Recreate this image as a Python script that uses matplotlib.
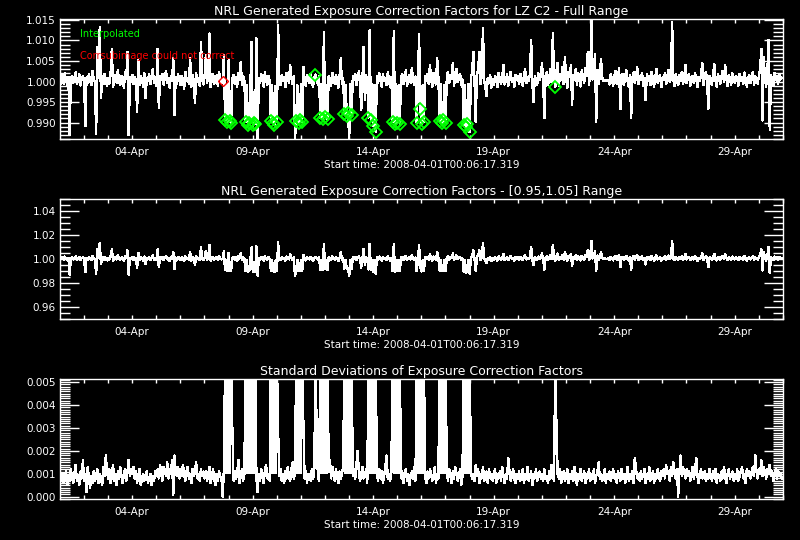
import numpy as np
import matplotlib
matplotlib.use("Agg")
import matplotlib.pyplot as plt
import matplotlib.dates as mdates
from matplotlib.ticker import MultipleLocator, FormatStrFormatter
from datetime import datetime, timedelta

# ---------------- data ----------------
start_time = datetime(2008, 4, 1, 0, 6, 17, 319000)
step_days = 0.05          # sampling of the series (days)
span_days = 30.0          # plotted time span (days)

# exposure correction factor minus 1, in units of 1e-4 (one row per day)
factor_dev = [
    -12, 8, 15, -5, 20, 3, -8, 11, -130, 6, 14, -3, 9, 22, -6, 4, 17, -10, 7, 12,
    5, -109, 10, -4, 18, 2, -9, 25, 6, -2, -127, 84, 8, 133, -41, 12, -7, 19, 3, -11,
    9, -5, 21, 80, -14, 6, 15, -3, 28, 1, -8, 13, 4, -16, 24, 7, 72, -131, 10, -2,
    16, -6, 11, 3, -74, 52, -9, 14, 5, -12, 20, -40, 8, 2, 17, -7, 10, 30, -4, 6,
    -10, 80, -65, 12, 4, 19, -8, 9, 26, -3, 7, -15, 13, 2, 56, -82, 11, -5, 18, 3,
    -9, 14, 6, -18, 23, 1, 9, -6, 56, -12, 15, 4, -53, 20, -2, 8, -11, 97, 5, -7,
    12, 64, -4, 10, 117, -14, 7, 19, -6, 3, 15, -10, 24, 5, -3, 1, 64, -94, -9, -99,
    52, -96, -101, 8, 16, -5, 11, -13, 21, 4, 48, -8, 13, 2, -98, -8, -105, -101, -10, 97,
    -107, -102, -104, 105, -138, 9, -4, 18, 6, -12, 22, 3, -7, 14, 1, -96, -8, -101, -106, -11,
    -99, 137, 5, -9, 16, 2, 11, -14, 20, 7, -3, 40, 9, -6, 13, -139, -97, -9, -101, -95,
    -7, -99, 36, 4, -11, 15, 8, -4, 19, 2, -13, 10, 17, 6, -7, 12, -88, -6, -92, 121,
    -86, -8, -91, 14, 3, -10, 21, 7, -5, 16, 1, -15, 11, 56, -6, 9, -80, -9, -84, -78,
    -138, -7, -82, 12, 4, 18, -9, 7, 25, -2, -70, 10, 84, -45, 15, 3, -88, 125, -93, -6,
    -108, -9, -124, 13, -4, 20, 6, -12, 17, 2, 9, -8, 22, 5, -14, 11, -99, 123, -104, -7,
    -100, -9, -103, 10, 18, -6, 4, 27, -11, 8, 15, -3, 33, 6, -9, 12, -100, -8, 115, -68,
    -103, -8, -99, 14, 2, 19, -5, 40, 8, -13, 21, 4, -7, 56, 10, -97, -7, -101, -95, -9,
    -100, 11, 24, -4, 16, 6, 45, -10, 13, 30, -2, 9, 19, -8, 5, -106, -8, -112, -104, -6,
    -124, 12, 20, 72, 3, -99, 17, 28, 72, -6, 14, 129, 2, -12, -35, 9, -3, 16, -15, 7,
    -9, 13, 4, -14, 21, 6, -5, 11, 40, -7, 3, 17, -10, 9, 23, -2, 8, -13, 15, 4,
    12, -6, 19, 7, -11, 14, 29, -4, 10, 2, 18, 101, -3, -50, 12, 6, -9, 20, 3, 15,
    45, -6, -89, 14, 22, -8, 9, 31, -2, 117, 11, -13, 26, 45, -10, 18, 4, 35, -7, 60,
    8, -15, 24, 12, 40, -56, 16, 3, 30, -9, 21, 6, -12, 27, 10, -4, 33, 14, 72, -8,
    19, 150, 5, 24, 67, -99, 28, -6, 15, 55, 9, 2, 3, 1, 2, 4, -7, 18, 6, -11,
    14, 25, -5, 10, 33, -68, 7, 19, -9, 12, 27, 3, -13, 16, -89, 8, 22, -4, 11, 35,
    -6, 14, 5, 21, -10, 9, -45, 17, 2, 13, -8, 24, 6, -12, 11, 30, -3, 8, 16, -14,
    10, 3, 20, -7, 13, 28, -2, 9, 145, 5, -11, 18, 4, -9, 15, 1, 23, -6, 7, 40,
    -4, 12, 19, -10, 6, 14, -3, 21, 8, -14, 11, 2, 17, 45, -8, 9, 24, 4, -68, 13,
    6, -9, 15, 42, 3, -12, 19, 7, -5, 14, 26, -2, 40, 8, -11, 16, 4, -7, 20, 9,
    -3, 13, 6, -10, 18, 2, 11, -6, 22, 5, -13, 9, 16, -4, 7, 24, -8, 12, 3, -5,
    14, 28, 80, -95, 60, 6, -12, 19, 101, -119, 15, 8, -10, 21, 3, 12, -6, 17, 5, 9,
]

# standard deviation of the correction factor, in units of 1e-4 (one row per day)
std_e4 = [
    9, 7, 10, 6, 8, 11, 5, 9, 7, 12, 8, 6, 10, 14, 7, 9, 5, 11, 8, 16,
    7, 10, 2, 13, 8, 4, 9, 6, 11, 7, 9, 12, 6, 10, 8, 5, 13, 9, 18, 11,
    8, 12, 6, 9, 14, 7, 10, 5, 11, 8, 13, 9, 6, 10, 12, 7, 11, 16, 9, 12,
    10, 13, 8, 11, 6, 9, 12, 5, 8, 10, 7, 9, 11, 6, 8, 10, 5, 9, 7, 11,
    9, 12, 8, 14, 10, 7, 13, 11, 9, 15, 8, 12, 10, 16, 1, 18, 11, 9, 13, 8,
    12, 9, 14, 10, 7, 11, 13, 8, 10, 6, 12, 9, 11, 15, 8, 10, 7, 12, 9, 11,
    8, 11, 7, 10, 13, 6, 9, 12, 8, 5, 10, 7, 11, 9, 8, 0, 12, 60, 60, 60,
    60, 60, 60, 30, 7, 11, 8, 10, 16, 6, 9, 12, 7, 10, 60, 60, 60, 60, 60, 60,
    60, 60, 60, 8, 2, 10, 7, 12, 9, 6, 11, 14, 8, 10, 7, 60, 60, 60, 60, 60,
    60, 29, 9, 12, 7, 10, 6, 11, 8, 13, 9, 7, 12, 15, 8, 10, 60, 60, 60, 60,
    60, 60, 31, 8, 11, 6, 10, 9, 7, 12, 8, 10, 60, 29, 9, 7, 60, 60, 60, 60,
    60, 60, 60, 11, 16, 8, 13, 10, 7, 12, 9, 6, 11, 8, 10, 13, 60, 60, 60, 60,
    60, 60, 60, 9, 12, 8, 14, 20, 11, 7, 10, 13, 8, 9, 12, 6, 60, 60, 60, 60,
    60, 60, 60, 10, 7, 12, 8, 11, 6, 9, 13, 18, 8, 10, 7, 11, 60, 60, 60, 60,
    60, 60, 60, 8, 11, 6, 9, 12, 7, 10, 5, 9, 11, 8, 13, 7, 60, 60, 60, 60,
    60, 60, 60, 9, 6, 11, 8, 12, 10, 7, 9, 13, 6, 10, 8, 60, 60, 60, 60, 60,
    60, 10, 7, 12, 9, 6, 11, 8, 13, 10, 7, 9, 12, 5, 9, 60, 60, 60, 60, 60,
    60, 11, 8, 10, 7, 14, 9, 12, 6, 10, 8, 13, 7, 9, 11, 6, 12, 8, 10, 7,
    9, 12, 6, 10, 8, 11, 7, 13, 9, 6, 10, 8, 17, 11, 7, 9, 12, 8, 6, 10,
    8, 11, 7, 9, 12, 6, 10, 8, 13, 7, 9, 11, 5, 10, 8, 12, 7, 9, 11, 8,
    10, 7, 12, 8, 9, 6, 11, 8, 14, 9, 7, 60, 30, 10, 8, 12, 6, 9, 11, 7,
    9, 12, 6, 10, 8, 11, 7, 13, 9, 5, 10, 8, 12, 7, 9, 11, 6, 10, 8, 12,
    7, 10, 8, 12, 6, 9, 11, 15, 8, 10, 7, 9, 12, 6, 10, 8, 11, 7, 9, 12,
    8, 10, 6, 11, 9, 7, 12, 8, 10, 6, 9, 13, 7, 10, 8, 11, 6, 17, 12, 8,
    10, 7, 11, 8, 9, 12, 6, 10, 8, 13, 7, 9, 11, 6, 10, 8, 12, 9, 7, 11,
    9, 12, 8, 14, 10, 11, 7, 13, 9, 15, 11, 8, 12, 0, 10, 18, 9, 13, 11, 8,
    12, 9, 11, 7, 10, 13, 8, 11, 17, 9, 6, 10, 12, 8, 9, 11, 7, 10, 8, 12,
    9, 7, 11, 8, 12, 6, 10, 9, 7, 11, 8, 13, 9, 6, 10, 12, 8, 9, 11, 7,
    10, 8, 12, 7, 9, 11, 13, 8, 10, 6, 12, 9, 11, 8, 10, 13, 9, 18, 11, 8,
    12, 10, 16, 9, 13, 11, 8, 12, 10, 14, 9, 11, 7, 10, 12, 8, 11, 9, 10, 8,
]

# samples flagged as interpolated / not correctable
interp_idx = [137, 139, 141, 142,
              154, 156, 157, 160, 161, 162,
              175, 177, 178, 180,
              196, 198, 199, 201,
              212,
              216, 218, 220, 222,
              236, 238, 239, 242,
              256, 258, 260, 262,
              276, 278, 280, 282,
              296, 299, 300, 302,
              315, 317, 318, 320,
              335, 337, 338, 340,
              411]
nocorr_idx = [135]

titles = [
    "NRL Generated Exposure Correction Factors for LZ C2 - Full Range",
    "NRL Generated Exposure Correction Factors - [0.95,1.05] Range",
    "Standard Deviations of Exposure Correction Factors",
]
xlabel_text = "Start time: 2008-04-01T00:06:17.319"
legend_labels = ["Interpolated", "Corrsubimage could not correct"]

# ---------------- derived ----------------
n = len(factor_dev)
factor = 1.0 + np.array(factor_dev) * 1e-4
stdv = np.array(std_e4) * 1e-4
times = mdates.date2num([start_time + timedelta(days=i * step_days) for i in range(n)])
t_end = mdates.date2num(start_time + timedelta(days=span_days))
t_start = mdates.date2num(start_time)

plt.rcParams['font.family'] = ['DejaVu Sans']
fig = plt.figure(figsize=(8, 5.4), dpi=100, facecolor='black')

W = 800.0
H = 540.0
left, right = 60, 783
panels_px = [(19, 139), (199, 319), (379, 499)]
axes = []
for top, bot in panels_px:
    ax = fig.add_axes([left / W, 1 - bot / H, (right - left) / W, (bot - top) / H])
    ax.set_facecolor('black')
    for s in ax.spines.values():
        s.set_color('white')
        s.set_linewidth(1.0)
    axes.append(ax)

green = (0, 1, 0)
red = (1, 0, 0)

series = [factor, factor, stdv]
ylims = [(0.98598, 1.01524), (0.95, 1.05), (-0.0001, 0.00514)]
ymaj = [0.005, 0.02, 0.001]
ymin_ = [0.001, 0.005, 0.0001]
yfmt = ['%.3f', '%.2f', '%.3f']

for k, ax in enumerate(axes):
    ax.plot(times, series[k], color='white', lw=1.0, antialiased=False)
    ax.set_xlim(t_start, t_end)
    ax.set_ylim(*ylims[k])
    ax.yaxis.set_major_locator(MultipleLocator(ymaj[k]))
    ax.yaxis.set_minor_locator(MultipleLocator(ymin_[k]))
    ax.yaxis.set_major_formatter(FormatStrFormatter(yfmt[k]))
    ax.xaxis.set_major_locator(mdates.DayLocator(bymonthday=[4, 9, 14, 19, 24, 29]))
    ax.xaxis.set_minor_locator(mdates.DayLocator())
    ax.xaxis.set_major_formatter(mdates.DateFormatter('%d-%b'))
    ax.tick_params(which='both', direction='in', top=True, right=True,
                   colors='white', labelsize=7.5, width=1.0)
    ax.tick_params(axis='y', which='major', length=14, pad=3)
    ax.tick_params(axis='y', which='minor', length=7)
    ax.tick_params(axis='x', which='major', length=3, pad=6)
    ax.tick_params(axis='x', which='minor', length=3)
    ax.set_title(titles[k], color='white', fontsize=9, pad=3)
    ax.set_xlabel(xlabel_text, color='white', fontsize=7.5, labelpad=2)

# saturated standard deviations (off the top of the range) drawn as solid columns
ax3 = axes[2]
ax3.fill_between(times, np.median(stdv), stdv, where=stdv > ylims[2][1],
                 color='white', lw=0, antialiased=False)

ax1 = axes[0]
ax1.plot(times[interp_idx], factor[interp_idx], linestyle='none', marker='D',
         mfc='none', mec=green, ms=6, mew=1.3)
ax1.plot(times[nocorr_idx], factor[nocorr_idx], linestyle='none', marker='D',
         mfc='none', mec=red, ms=5, mew=1.0)
ax1.text(0.0277, 0.8725, legend_labels[0], color=green, fontsize=7,
         transform=ax1.transAxes, va='center', ha='left')
ax1.text(0.0277, 0.692, legend_labels[1], color=red, fontsize=7,
         transform=ax1.transAxes, va='center', ha='left')

fig.savefig('out.png', dpi=100, facecolor='black')
